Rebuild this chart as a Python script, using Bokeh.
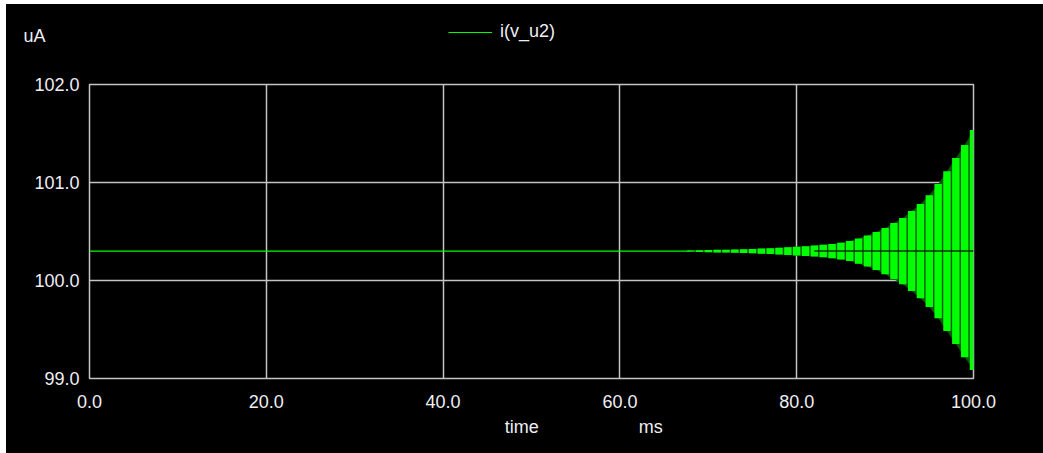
from bokeh.plotting import figure
from bokeh.layouts import column
from bokeh.models import Legend, LegendItem, Label, FixedTicker, PrintfTickFormatter, Range1d
from bokeh.embed import file_html
from bokeh.resources import INLINE

# ---- data ----
series_name = "i(v_u2)"
base_time_ms = [0.0, 100.0]
base_uA = [100.3, 100.3]

osc_time_ms = [68, 69, 70, 71, 72, 73, 74, 75, 76, 77, 78, 79, 80, 81, 82, 83, 84,
               85, 86, 87, 88, 89, 90, 91, 92, 93, 94, 95, 96, 97, 98, 99, 100]
osc_upper_uA = [100.305, 100.309, 100.312, 100.314, 100.315, 100.317, 100.320, 100.322,
                100.326, 100.330, 100.334, 100.339, 100.344, 100.350, 100.356, 100.364,
                100.373, 100.385, 100.402, 100.428, 100.458, 100.494, 100.535, 100.586,
                100.637, 100.708, 100.780, 100.871, 100.984, 101.116, 101.249, 101.382,
                101.535]
osc_lower_uA = [100.295, 100.291, 100.288, 100.286, 100.285, 100.283, 100.280, 100.278,
                100.274, 100.270, 100.266, 100.261, 100.256, 100.250, 100.244, 100.236,
                100.227, 100.215, 100.198, 100.172, 100.142, 100.106, 100.065, 100.014,
                99.963, 99.892, 99.820, 99.729, 99.616, 99.484, 99.351, 99.218, 99.086]

x_ticks = [0, 20, 40, 60, 80, 100]
y_ticks = [99, 100, 101, 102]
y_unit = "uA"
x_title = "time"
x_unit = "ms"

FONT = "Liberation Sans"
FS = "18px"
TXT = "#eeeef4"
GRID = "#c4c4c4"
GREEN = "#00ff00"
DARK_GREEN = "#0c560c"
W = 1037
LEFT, RIGHT = 83, 70

x_range = Range1d(0, 100)


def side_fig(height):
    f = figure(width=W, height=height, output_backend="svg", toolbar_location=None,
               x_range=x_range, y_range=Range1d(0, height),
               frame_width=884, frame_height=height,
               min_border_left=LEFT, min_border_right=RIGHT,
               min_border_top=0, min_border_bottom=0,
               background_fill_color="black", border_fill_color="black",
               outline_line_color=None)
    f.xaxis.visible = False
    f.xgrid.visible = False
    f.ygrid.visible = False
    ya = f.yaxis[0]
    ya.ticker = FixedTicker(ticks=[])
    ya.axis_line_color = None
    ya.major_tick_line_color = None
    ya.minor_tick_line_color = None
    ya.major_tick_out = 0
    ya.minor_tick_out = 0
    ya.major_label_standoff = 0
    return f


# ---- header: unit label (as the header's axis label) and legend ----
header = side_fig(62)
hy = header.yaxis[0]
hy.axis_label = y_unit
hy.axis_label_orientation = "horizontal"
hy.axis_label_standoff = 44
hy.axis_label_text_font = FONT
hy.axis_label_text_font_size = FS
hy.axis_label_text_font_style = "normal"
hy.axis_label_text_color = TXT

leg_line = header.line(base_time_ms, base_uA, line_color=GREEN, line_width=1.2)
header.add_layout(Legend(items=[LegendItem(label=series_name, renderers=[leg_line])],
                         location=(359, 24), padding=0, margin=0, spacing=0,
                         glyph_width=44, glyph_height=20, label_height=20, label_standoff=8,
                         label_text_font=FONT, label_text_font_size=FS, label_text_color=TXT,
                         background_fill_alpha=0, border_line_alpha=0), "center")

# ---- main plot ----
p = figure(width=W, height=348, output_backend="svg", toolbar_location=None,
           x_range=x_range, y_range=Range1d(99, 102),
           frame_width=884, frame_height=294,
           min_border_left=LEFT, min_border_right=RIGHT, min_border_top=18, min_border_bottom=36,
           background_fill_color="black", border_fill_color="black",
           outline_line_color=GRID, outline_line_width=1.5)

for ax in (p.xaxis[0], p.yaxis[0]):
    ax.axis_line_color = None
    ax.major_tick_line_color = None
    ax.minor_tick_line_color = None
    ax.major_label_text_font = FONT
    ax.major_label_text_font_size = FS
    ax.major_label_text_color = TXT
    ax.formatter = PrintfTickFormatter(format="%.1f")

p.xaxis[0].ticker = FixedTicker(ticks=x_ticks)
p.yaxis[0].ticker = FixedTicker(ticks=y_ticks)
p.xaxis[0].major_label_standoff = 10
p.yaxis[0].major_label_standoff = 4

p.xgrid[0].ticker = FixedTicker(ticks=x_ticks)
p.ygrid[0].ticker = FixedTicker(ticks=y_ticks)
p.xgrid.grid_line_color = GRID
p.ygrid.grid_line_color = GRID
p.xgrid.grid_line_width = 1.5
p.ygrid.grid_line_width = 1.5

p.line(base_time_ms, base_uA, line_color=GREEN, line_width=1.2)
p.varea(x=osc_time_ms, y1=osc_lower_uA, y2=osc_upper_uA, fill_color=DARK_GREEN)
p.vbar(x=osc_time_ms, top=osc_upper_uA, bottom=osc_lower_uA, width=0.84,
       fill_color=GREEN, line_color=None)
p.line([osc_time_ms[14], base_time_ms[1]], [base_uA[0], base_uA[1]],
       line_color="#063006", line_width=1.5)

# ---- footer: x title and unit ----
footer = side_fig(39)
footer.yaxis.visible = False
footer.add_layout(Label(x=48.9, y=27, text=x_title, text_font=FONT, text_font_size=FS,
                        text_color=TXT, text_baseline="middle", text_align="center"))
footer.add_layout(Label(x=63.5, y=27, text=x_unit, text_font=FONT, text_font_size=FS,
                        text_color=TXT, text_baseline="middle", text_align="center"))

layout = column(header, p, footer, spacing=0, margin=(4, 0, 0, 6),
                styles={"background-color": "black"})
open("out.html", "w").write(file_html(layout, INLINE))
